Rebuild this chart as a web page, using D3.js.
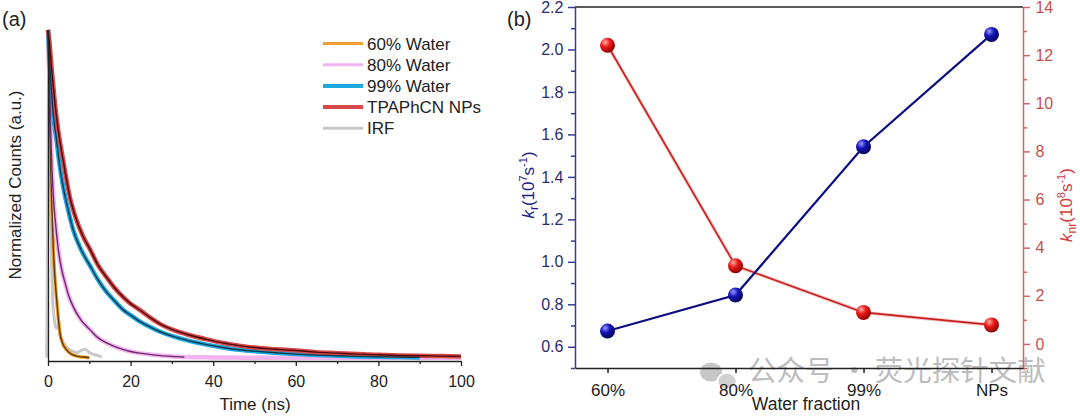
<!DOCTYPE html>
<html><head><meta charset="utf-8">
<script src="https://cdn.jsdelivr.net/npm/d3@7"></script>
<style>
html,body{margin:0;padding:0;background:#fff;}
svg{display:block;font-family:"Liberation Sans",Arial,sans-serif;}
</style></head>
<body><svg id="c" width="1080" height="416"></svg>
<script>
// ---------- Panel (a) data: normalized decay curves ----------
const legendLabels = ["60% Water","80% Water","99% Water","TPAPhCN NPs","IRF"];
const xTicksA = [0,20,40,60,80,100];

const tIRF = [-0.3,0,0.15,0.3,0.45,0.6,0.9,1.2,1.6,2.0,2.5,3.0,3.5,4.0,5.0,6.0,7.0,8.0,9.0,10.0,11.0,12.0,13.0];
const vIRF = [0,0.6,0.95,1.0,0.8,0.55,0.3,0.16,0.11,0.09,0.1,0.065,0.05,0.04,0.026,0.02,0.016,0.022,0.026,0.016,0.01,0.007,0.002];

const t60 = [0,0.3,0.6,0.9,1.3,1.7,2.1,2.5,2.9,3.5,4.5,5.5,7,8.5,10];
const v60 = [1.0,0.8,0.6,0.48,0.33,0.24,0.177,0.12,0.075,0.045,0.024,0.012,0.005,0.002,0];

const t80 = [0,0.4,0.8,1.3,1.9,2.5,3.3,4.1,5,6.1,8,10.2,12,14.2,17,20,22.3,26,30,33,40,50,60,70,80,90,100];
const v80 = [1.0,0.82,0.63,0.49,0.40,0.33,0.27,0.23,0.19,0.156,0.115,0.085,0.062,0.045,0.03,0.019,0.014,0.008,0.004,0.002,0.001,0,0,0,0,0,0];
const fit80End = 33;

const t99 = [0,0.5,1.3,2.1,2.9,3.7,4.9,6.1,8,10.2,12,14.2,16,18.2,20,22.3,25,27,30.3,34,38.4,42,45.7,50,55,60,65,70,75,80,85,90];
const v99 = [1.0,0.88,0.74,0.66,0.58,0.52,0.45,0.39,0.33,0.28,0.24,0.20,0.175,0.146,0.13,0.11,0.092,0.08,0.065,0.052,0.04,0.032,0.025,0.02,0.015,0.011,0.008,0.006,0.004,0.003,0.002,0.001];

const tNP = [0,0.3,0.9,2.1,3.7,5.3,6.9,8.5,10.2,12,14.2,16,18.2,20,22.3,25,27,30.3,34,38.4,42,44.8,50,55,60,65,70,75,80,85,90,95,100];
const vNP = [1.0,0.97,0.88,0.73,0.60,0.49,0.42,0.37,0.33,0.285,0.245,0.215,0.185,0.165,0.145,0.12,0.104,0.085,0.07,0.056,0.046,0.04,0.031,0.026,0.022,0.017,0.014,0.011,0.009,0.007,0.006,0.005,0.004];

// ---------- Panel (b) data ----------
const categories = ["60%","80%","99%","NPs"];
const kr  = [0.674,0.844,1.542,2.071];   // 10^7 s^-1
const knr = [12.41,3.25,1.31,0.79];      // 10^8 s^-1
const leftTicks = [0.6,0.8,1.0,1.2,1.4,1.6,1.8,2.0,2.2];
const rightTicks = [0,2,4,6,8,10,12,14];

const svg = d3.select("#c");

// ================= Panel (a) =================
const xA = d3.scaleLinear().domain([0,100]).range([48,461]);
const yA = d3.scaleLinear().domain([-0.01,1.0]).range([361,30]);
const gA = svg.append("g");

const line = (ts,vs,tmax) => d3.line().curve(d3.curveMonotoneX)
  .x(i=>xA(ts[i])).y(i=>yA(vs[i]))(d3.range(ts.length).filter(i=>tmax===undefined||ts[i]<=tmax));

const seriesA = [
  {t:tIRF,v:vIRF,col:"#c8c8c8",w:3,lw:3,fit:null},
  {t:t60,v:v60,col:"#f0a030",w:3.5,lw:3,fit:"#5a3a10"},
  {t:t80,v:v80,col:"#f2b4ee",w:4.5,lw:3,fit:"#6a2a6a",fitEnd:fit80End},
  {t:t99,v:v99,col:"#1ea8e0",w:4.5,lw:4,fit:"#10384e"},
  {t:tNP,v:vNP,col:"#d8474a",w:4.5,lw:4,fit:"#4a0808"}
];
seriesA.forEach(s=>{
  gA.append("path").attr("d",line(s.t,s.v)).attr("fill","none")
    .attr("stroke",s.col).attr("stroke-width",s.w).attr("stroke-linejoin","round");
});
seriesA.forEach(s=>{
  if(!s.fit) return;
  gA.append("path").attr("d",line(s.t,s.v,s.fitEnd)).attr("fill","none")
    .attr("stroke",s.fit).attr("stroke-width",1.4);
});

// axes (a)
const axA = gA.append("g").attr("transform","translate(0,361)")
  .call(d3.axisBottom(xA).tickValues(xTicksA).tickSize(5).tickSizeOuter(0).tickFormat(d3.format("d")));
axA.selectAll(".tick text").attr("font-size",16).attr("fill","#222").attr("dy","1.1em")
  .attr("font-family","Liberation Sans, Arial, sans-serif");
axA.append("g").call(d3.axisBottom(xA).tickValues([10,30,50,70,90]).tickSize(3).tickFormat(""))
  .select(".domain").remove();
axA.selectAll("path,line").attr("stroke","#222").attr("stroke-width",1.3);
const ayA = gA.append("g").attr("transform","translate(48,0)")
  .call(d3.axisLeft(yA).tickValues([]).tickSizeOuter(0));
ayA.selectAll("path").attr("stroke","#222").attr("stroke-width",1.3);

gA.append("text").attr("x",255).attr("y",410).attr("text-anchor","middle")
  .attr("font-size",17).attr("fill","#222").text("Time (ns)");
gA.append("text").attr("transform","translate(21,185) rotate(-90)").attr("text-anchor","middle")
  .attr("font-size",17).attr("fill","#222").text("Normalized Counts (a.u.)");
svg.append("text").attr("x",2).attr("y",26).attr("font-size",20).attr("fill","#222").text("(a)");

// legend
const lg = gA.append("g");
legendLabels.forEach((lab,i)=>{
  const y = 43.5 + i*21.2;
  const s = seriesA[[1,2,3,4,0][i]];
  lg.append("line").attr("x1",323).attr("x2",363).attr("y1",y).attr("y2",y)
    .attr("stroke",s.col).attr("stroke-width",s.lw);
  lg.append("text").attr("x",367).attr("y",y+6).attr("font-size",17).attr("fill","#222").text(lab);
});

// ================= Panel (b) =================
const xB = d3.scaleLinear().domain([-0.254,3.246]).range([575,1023]);
const yL = d3.scaleLinear().domain([0.5,2.2]).range([368,7]);
const yR = d3.scaleLinear().domain([-1,14]).range([368,7]);
const gB = svg.append("g");

const defs = svg.append("defs");
function grad(id, hi, mid, lo){
  const g = defs.append("radialGradient").attr("id",id).attr("cx","35%").attr("cy","30%").attr("r","70%");
  g.append("stop").attr("offset","0%").attr("stop-color",hi);
  g.append("stop").attr("offset","45%").attr("stop-color",mid);
  g.append("stop").attr("offset","100%").attr("stop-color",lo);
}
grad("gBlue","#9a9aff","#1414b8","#05055a");
grad("gRed","#ffb0a8","#ee1a1a","#900000");

// watermark (behind everything in panel b)
const wm = gB.append("g").attr("opacity",0.75);
wm.append("ellipse").attr("cx",711).attr("cy",372).attr("rx",11).attr("ry",9.5).attr("fill","#b5b5b5");
wm.append("ellipse").attr("cx",727).attr("cy",381).attr("rx",9.5).attr("ry",8).attr("fill","#c2c2c2").attr("stroke","#fff").attr("stroke-width",1.5);
wm.append("text").attr("x",748).attr("y",381).attr("font-size",28.5).attr("fill","#a8a8a8")
  .attr("font-family","Noto Sans CJK SC, sans-serif").text("公众号 · 荧光探针文献");

// top frame line
gB.append("line").attr("x1",575).attr("x2",1023).attr("y1",7).attr("y2",7).attr("stroke","#222").attr("stroke-width",1.3);

// left axis
const ayL = gB.append("g").attr("transform","translate(575,0)")
  .call(d3.axisLeft(yL).tickValues(leftTicks).tickSize(7).tickSizeOuter(0).tickFormat(d3.format(".1f")));
ayL.append("g").call(d3.axisLeft(yL).tickValues([0.5,0.7,0.9,1.1,1.3,1.5,1.7,1.9,2.1]).tickSize(4).tickFormat(""))
  .select(".domain").remove();
ayL.selectAll("path,line").attr("stroke","#3a3a92").attr("stroke-width",1.5);
ayL.selectAll(".tick text").attr("font-size",16).attr("fill","#2b2b6e").attr("dx","-0.1em")
  .attr("font-family","Liberation Sans, Arial, sans-serif");

// right axis
const ayR = gB.append("g").attr("transform","translate(1023,0)")
  .call(d3.axisRight(yR).tickValues(rightTicks).tickSize(7).tickSizeOuter(0).tickFormat(d3.format("d")));
ayR.append("g").call(d3.axisRight(yR).tickValues([-1,1,3,5,7,9,11,13]).tickSize(4).tickFormat(""))
  .select(".domain").remove();
ayR.selectAll("path,line").attr("stroke","#c86a6a").attr("stroke-width",1.5);
ayR.selectAll(".tick text").attr("font-size",16).attr("fill","#c5504d").attr("dx","0.15em")
  .attr("font-family","Liberation Sans, Arial, sans-serif");

// bottom axis
const axB = gB.append("g").attr("transform","translate(0,368)")
  .call(d3.axisBottom(xB).tickValues([0,1,2,3]).tickSize(5).tickSizeOuter(0).tickFormat(i=>categories[i]));
axB.selectAll("path,line").attr("stroke","#222").attr("stroke-width",1.5);
axB.selectAll(".tick text").attr("font-size",17).attr("fill","#222").attr("dy","1.15em")
  .attr("font-family","Liberation Sans, Arial, sans-serif");

// lines + markers
const idx = d3.range(categories.length);
gB.append("path").attr("d",d3.line().x(i=>xB(i)).y(i=>yR(knr[i]))(idx))
  .attr("fill","none").attr("stroke","#f3a0a0").attr("stroke-width",3.5).attr("opacity",0.6);
gB.append("path").attr("d",d3.line().x(i=>xB(i)).y(i=>yR(knr[i]))(idx))
  .attr("fill","none").attr("stroke","#c81e1e").attr("stroke-width",1.6);
gB.append("path").attr("d",d3.line().x(i=>xB(i)).y(i=>yL(kr[i]))(idx))
  .attr("fill","none").attr("stroke","#0c0c80").attr("stroke-width",2.2);
idx.forEach(i=>{
  gB.append("circle").attr("cx",xB(i)).attr("cy",yR(knr[i])).attr("r",7.5).attr("fill","url(#gRed)");
  gB.append("circle").attr("cx",xB(i)).attr("cy",yL(kr[i])).attr("r",7.5).attr("fill","url(#gBlue)");
});

// axis titles
const tl = gB.append("text").attr("transform","translate(534,185) rotate(-90)").attr("text-anchor","middle")
  .attr("font-size",17).attr("fill","#1c1c8a");
tl.append("tspan").attr("font-style","italic").text("k");
tl.append("tspan").attr("font-size",12).attr("dy",4).text("r");
tl.append("tspan").attr("dy",-4).text("(10");
tl.append("tspan").attr("font-size",11).attr("dy",-7).text("7");
tl.append("tspan").attr("dy",7).text("s");
tl.append("tspan").attr("font-size",11).attr("dy",-7).text("-1");
tl.append("tspan").attr("dy",7).text(")");

const tr = gB.append("text").attr("transform","translate(1072,205) rotate(-90)").attr("text-anchor","middle")
  .attr("font-size",17).attr("fill","#d23a3a");
tr.append("tspan").attr("font-style","italic").text("k");
tr.append("tspan").attr("font-size",12).attr("dy",4).text("nr");
tr.append("tspan").attr("dy",-4).text("(10");
tr.append("tspan").attr("font-size",11).attr("dy",-7).text("8");
tr.append("tspan").attr("dy",7).text("s");
tr.append("tspan").attr("font-size",11).attr("dy",-7).text("-1");
tr.append("tspan").attr("dy",7).text(")");

gB.append("text").attr("x",806).attr("y",410).attr("text-anchor","middle")
  .attr("font-size",17.5).attr("fill","#222").text("Water fraction");
svg.append("text").attr("x",507).attr("y",26).attr("font-size",20).attr("fill","#222").text("(b)");
</script></body></html>
